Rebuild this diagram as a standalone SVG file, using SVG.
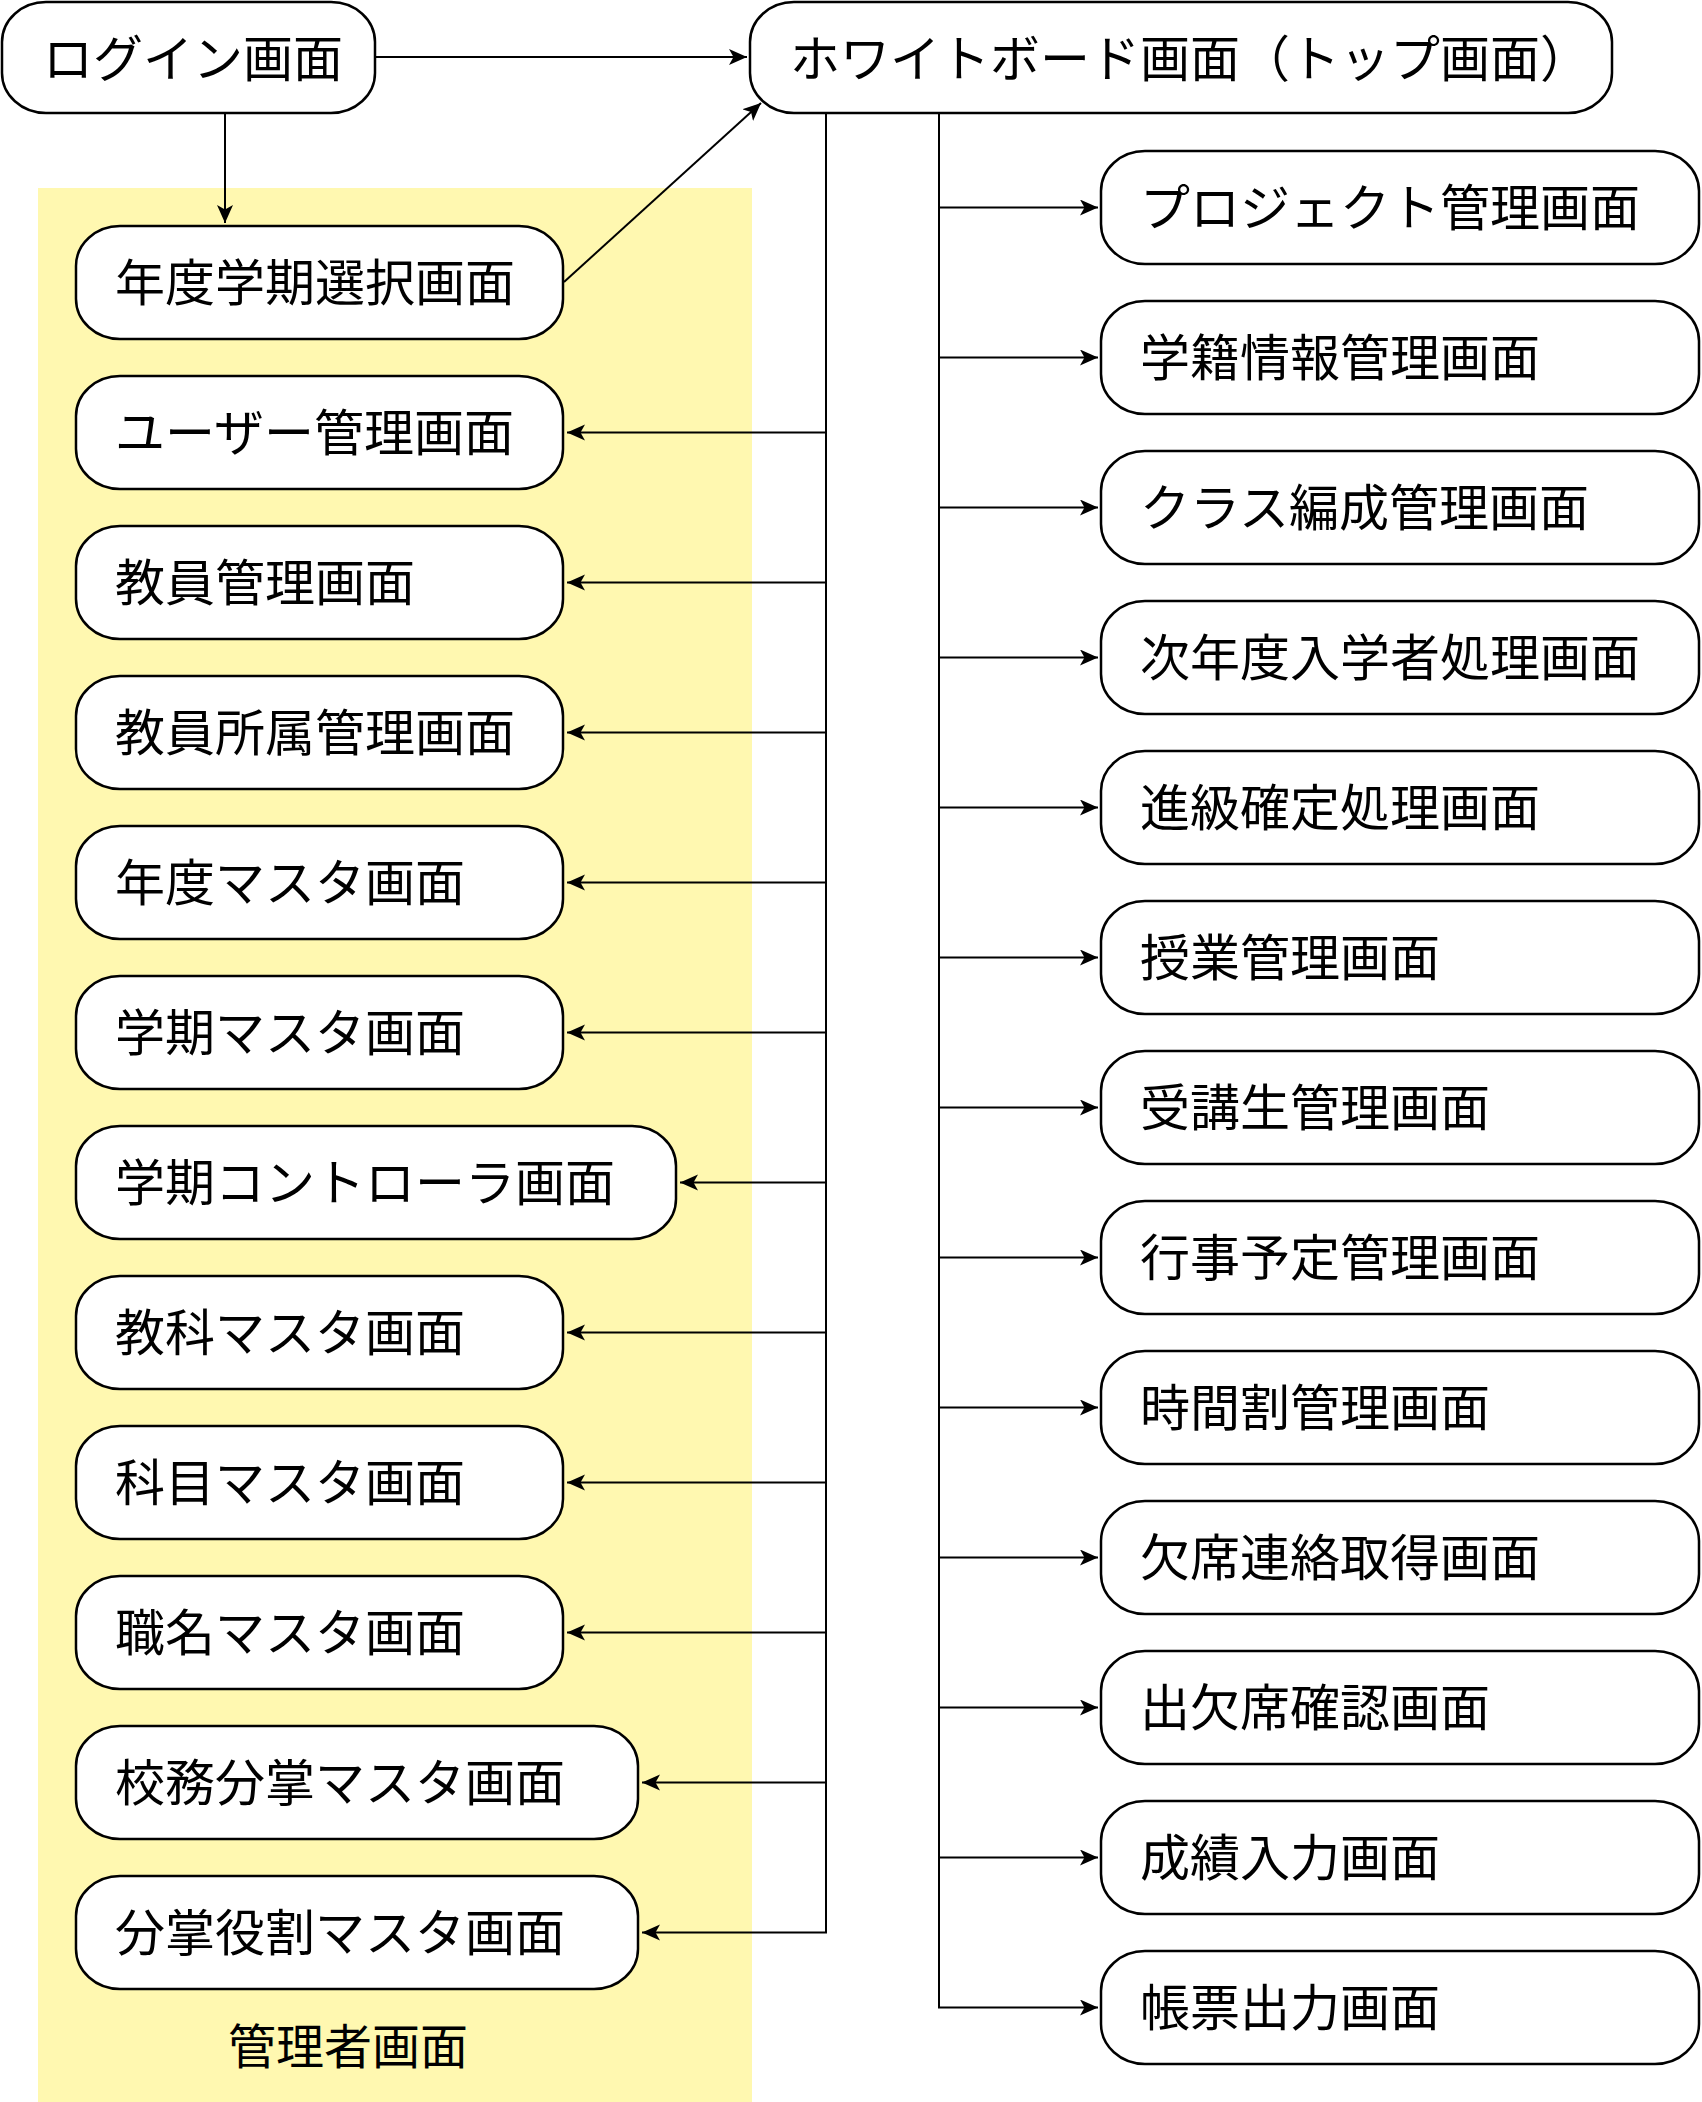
<svg xmlns="http://www.w3.org/2000/svg" width="1702" height="2102" viewBox="0 0 1702 2102">
<style>
.n rect{fill:#fff;stroke:#000;stroke-width:2.5}
.n text,.lbl{font-family:"Noto Sans CJK JP","Noto Sans CJK SC",sans-serif;font-size:50px;fill:#000}
.c path{fill:none;stroke:#000;stroke-width:2}
</style>
<defs>
<marker id="ah" markerUnits="userSpaceOnUse" markerWidth="20" markerHeight="18" refX="18" refY="8" orient="auto">
<path d="M0,0 L18,8 L0,16 L4.5,8 Z" fill="#000"/>
</marker>
</defs>
<rect id="admin-area" x="38" y="188" width="714" height="1914" fill="#FFF8B0"/>
<text class="lbl" x="228" y="2064" style="font-size:48px">管理者画面</text>
<g class="c" id="connectors">
<path d="M375,57 H747" marker-end="url(#ah)"/>
<path d="M225,113 V223" marker-end="url(#ah)"/>
<path d="M564,282 L761,103" marker-end="url(#ah)"/>
<path d="M826,113 V1932.5 H642" marker-end="url(#ah)"/>
<path d="M826,432.5 H567" marker-end="url(#ah)"/>
<path d="M826,582.5 H567" marker-end="url(#ah)"/>
<path d="M826,732.5 H567" marker-end="url(#ah)"/>
<path d="M826,882.5 H567" marker-end="url(#ah)"/>
<path d="M826,1032.5 H567" marker-end="url(#ah)"/>
<path d="M826,1182.5 H680" marker-end="url(#ah)"/>
<path d="M826,1332.5 H567" marker-end="url(#ah)"/>
<path d="M826,1482.5 H567" marker-end="url(#ah)"/>
<path d="M826,1632.5 H567" marker-end="url(#ah)"/>
<path d="M826,1782.5 H642" marker-end="url(#ah)"/>
<path d="M939,113 V2007.5 H1098" marker-end="url(#ah)"/>
<path d="M939,207.5 H1098" marker-end="url(#ah)"/>
<path d="M939,357.5 H1098" marker-end="url(#ah)"/>
<path d="M939,507.5 H1098" marker-end="url(#ah)"/>
<path d="M939,657.5 H1098" marker-end="url(#ah)"/>
<path d="M939,807.5 H1098" marker-end="url(#ah)"/>
<path d="M939,957.5 H1098" marker-end="url(#ah)"/>
<path d="M939,1107.5 H1098" marker-end="url(#ah)"/>
<path d="M939,1257.5 H1098" marker-end="url(#ah)"/>
<path d="M939,1407.5 H1098" marker-end="url(#ah)"/>
<path d="M939,1557.5 H1098" marker-end="url(#ah)"/>
<path d="M939,1707.5 H1098" marker-end="url(#ah)"/>
<path d="M939,1857.5 H1098" marker-end="url(#ah)"/>
</g>
<g class="n" id="login"><rect x="2" y="2" width="373" height="111" rx="44" ry="40"/><text x="43" y="77">ログイン画面</text></g>
<g class="n" id="whiteboard"><rect x="750" y="2" width="862" height="111" rx="44" ry="40"/><text x="790" y="77">ホワイトボード画面（トップ画面）</text></g>
<g class="n" id="l1"><rect x="76" y="226" width="487" height="113" rx="44" ry="40"/><text x="115" y="301">年度学期選択画面</text></g>
<g class="n" id="l2"><rect x="76" y="376" width="487" height="113" rx="44" ry="40"/><text x="115" y="451">ユーザー管理画面</text></g>
<g class="n" id="l3"><rect x="76" y="526" width="487" height="113" rx="44" ry="40"/><text x="115" y="601">教員管理画面</text></g>
<g class="n" id="l4"><rect x="76" y="676" width="487" height="113" rx="44" ry="40"/><text x="115" y="751">教員所属管理画面</text></g>
<g class="n" id="l5"><rect x="76" y="826" width="487" height="113" rx="44" ry="40"/><text x="115" y="901">年度マスタ画面</text></g>
<g class="n" id="l6"><rect x="76" y="976" width="487" height="113" rx="44" ry="40"/><text x="115" y="1051">学期マスタ画面</text></g>
<g class="n" id="l7"><rect x="76" y="1126" width="600" height="113" rx="44" ry="40"/><text x="115" y="1201">学期コントローラ画面</text></g>
<g class="n" id="l8"><rect x="76" y="1276" width="487" height="113" rx="44" ry="40"/><text x="115" y="1351">教科マスタ画面</text></g>
<g class="n" id="l9"><rect x="76" y="1426" width="487" height="113" rx="44" ry="40"/><text x="115" y="1501">科目マスタ画面</text></g>
<g class="n" id="l10"><rect x="76" y="1576" width="487" height="113" rx="44" ry="40"/><text x="115" y="1651">職名マスタ画面</text></g>
<g class="n" id="l11"><rect x="76" y="1726" width="562" height="113" rx="44" ry="40"/><text x="115" y="1801">校務分掌マスタ画面</text></g>
<g class="n" id="l12"><rect x="76" y="1876" width="562" height="113" rx="44" ry="40"/><text x="115" y="1951">分掌役割マスタ画面</text></g>
<g class="n" id="r1"><rect x="1101" y="151" width="598" height="113" rx="44" ry="40"/><text x="1140" y="226">プロジェクト管理画面</text></g>
<g class="n" id="r2"><rect x="1101" y="301" width="598" height="113" rx="44" ry="40"/><text x="1140" y="376">学籍情報管理画面</text></g>
<g class="n" id="r3"><rect x="1101" y="451" width="598" height="113" rx="44" ry="40"/><text x="1140" y="526">クラス編成管理画面</text></g>
<g class="n" id="r4"><rect x="1101" y="601" width="598" height="113" rx="44" ry="40"/><text x="1140" y="676">次年度入学者処理画面</text></g>
<g class="n" id="r5"><rect x="1101" y="751" width="598" height="113" rx="44" ry="40"/><text x="1140" y="826">進級確定処理画面</text></g>
<g class="n" id="r6"><rect x="1101" y="901" width="598" height="113" rx="44" ry="40"/><text x="1140" y="976">授業管理画面</text></g>
<g class="n" id="r7"><rect x="1101" y="1051" width="598" height="113" rx="44" ry="40"/><text x="1140" y="1126">受講生管理画面</text></g>
<g class="n" id="r8"><rect x="1101" y="1201" width="598" height="113" rx="44" ry="40"/><text x="1140" y="1276">行事予定管理画面</text></g>
<g class="n" id="r9"><rect x="1101" y="1351" width="598" height="113" rx="44" ry="40"/><text x="1140" y="1426">時間割管理画面</text></g>
<g class="n" id="r10"><rect x="1101" y="1501" width="598" height="113" rx="44" ry="40"/><text x="1140" y="1576">欠席連絡取得画面</text></g>
<g class="n" id="r11"><rect x="1101" y="1651" width="598" height="113" rx="44" ry="40"/><text x="1140" y="1726">出欠席確認画面</text></g>
<g class="n" id="r12"><rect x="1101" y="1801" width="598" height="113" rx="44" ry="40"/><text x="1140" y="1876">成績入力画面</text></g>
<g class="n" id="r13"><rect x="1101" y="1951" width="598" height="113" rx="44" ry="40"/><text x="1140" y="2026">帳票出力画面</text></g>
</svg>
